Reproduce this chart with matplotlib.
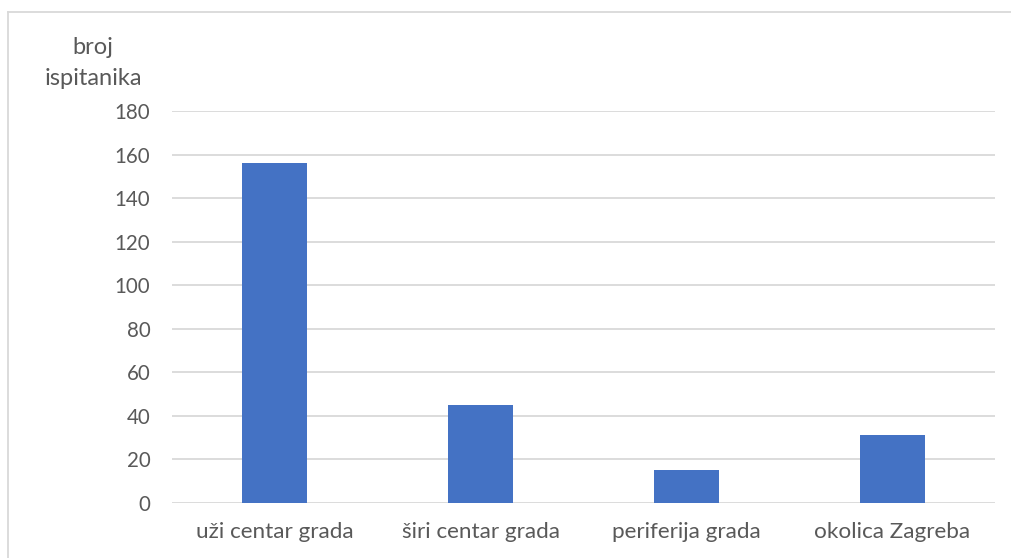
import matplotlib
matplotlib.use("Agg")
import matplotlib.pyplot as plt
from matplotlib.lines import Line2D

categories = ["uži centar grada", "širi centar grada", "periferija grada", "okolica Zagreba"]
values = [156, 45, 15, 31]
yticks = [0, 20, 40, 60, 80, 100, 120, 140, 160, 180]

plt.rcParams['font.family'] = ['Lato', 'DejaVu Sans']
text_color = "#595959"
grid_color = "#d9d9d9"
bar_color = "#4472c4"

fig = plt.figure(figsize=(10.11, 5.58), dpi=100)
ax = fig.add_axes([172/1011, 1-503/558, (995-172)/1011, (503-111)/558])

x = list(range(len(categories)))
ax.bar(x, values, width=0.315, color=bar_color, zorder=3)
ax.set_xlim(-0.5, len(categories)-0.5)
ax.set_ylim(0, 180)
ax.set_yticks(yticks)
ax.set_xticks(x)
ax.set_xticklabels(categories)
ax.yaxis.grid(True, color=grid_color, linewidth=1.3, zorder=0)
for s in ax.spines.values():
    s.set_visible(False)
ax.tick_params(axis='y', length=0, labelsize=14.8, colors=text_color, pad=15.5)
ax.tick_params(axis='x', length=0, labelsize=16.2, colors=text_color, pad=14)

fig.text(93/1011, 1-47/558, "broj", ha='center', va='center', fontsize=17, color=text_color)
fig.text(93/1011, 1-79/558, "ispitanika", ha='center', va='center', fontsize=17, color=text_color)

# chart border (left and top)
fig.add_artist(Line2D([8/1011, 8/1011], [0, 1-12/558], transform=fig.transFigure, color=grid_color, linewidth=1.3))
fig.add_artist(Line2D([8/1011, 1], [1-12/558, 1-12/558], transform=fig.transFigure, color=grid_color, linewidth=1.3))

fig.savefig("out.png", dpi=100)
